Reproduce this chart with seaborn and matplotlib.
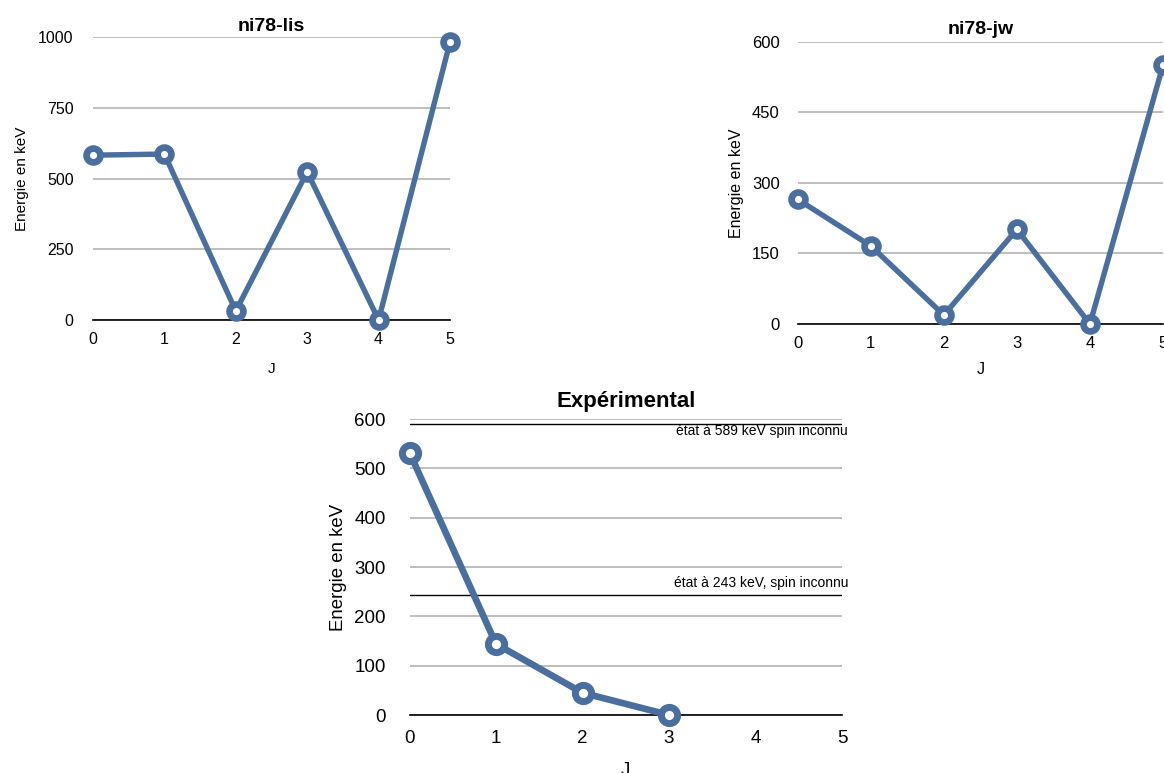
import matplotlib
matplotlib.use("Agg")
import matplotlib.pyplot as plt
import seaborn as sns
import pandas as pd

# === Données ===
j_lis = [0, 1, 2, 3, 4, 5]
e_lis = [583, 587, 32, 524, 0, 983]

j_jw = [0, 1, 2, 3, 4, 5]
e_jw = [265, 166, 19, 201, 0, 550]

j_exp = [0, 1, 2, 3]
e_exp = [532, 144, 45, 0]

# états de spin inconnu (expérimental)
etats_inconnus = [589, 243]
etats_labels = ["état à 589 keV spin inconnu", "état à 243 keV, spin inconnu"]

yticks_lis = [0, 250, 500, 750, 1000]
yticks_jw = [0, 150, 300, 450, 600]
yticks_exp = [0, 100, 200, 300, 400, 500, 600]
xticks = [0, 1, 2, 3, 4, 5]

BLEU = "#4a6f9e"
GRIS = "#b3b3b3"

sns.set_style("white")
plt.rcParams["font.family"] = ["Liberation Sans", "DejaVu Sans"]
plt.rcParams["text.color"] = "black"
plt.rcParams["axes.labelcolor"] = "black"
plt.rcParams["xtick.color"] = "black"
plt.rcParams["ytick.color"] = "black"

fig = plt.figure(figsize=(11.64, 7.73), dpi=100)


def panneau(rect, j, e, yticks, titre, fs_tick, fs_lab, fs_titre, ms, mew, lw,
            title_y, ylab_x, xlab_y, ypad, xpad):
    ax = fig.add_axes(rect)
    df = pd.DataFrame({"J": j, "E": e})
    sns.lineplot(data=df, x="J", y="E", ax=ax, color=BLEU, lw=lw, marker="o",
                 ms=ms, mfc="white", mec=BLEU, mew=mew, clip_on=False, zorder=5)
    ax.set_xlim(0, 5)
    ax.set_ylim(yticks[0], yticks[-1])
    ax.set_xticks(xticks)
    ax.set_yticks(yticks)
    ax.yaxis.grid(True, color=GRIS, lw=1.2)
    ax.xaxis.grid(False)
    ax.set_axisbelow(True)
    for s in ["top", "right", "left"]:
        ax.spines[s].set_visible(False)
    ax.spines["bottom"].set_color("black")
    ax.spines["bottom"].set_linewidth(1.2)
    ax.tick_params(axis="both", length=0, labelsize=fs_tick)
    ax.tick_params(axis="y", pad=ypad)
    ax.tick_params(axis="x", pad=xpad)
    ax.set_xlabel("J", fontsize=fs_lab)
    ax.set_ylabel("Energie en keV", fontsize=fs_lab)
    ax.yaxis.set_label_coords(ylab_x, 0.5)
    ax.xaxis.set_label_coords(0.5, xlab_y)
    ax.set_title(titre, fontsize=fs_titre, fontweight="bold", y=title_y,
                 va="center", pad=0)
    return ax


W, H = 1164, 773

# ni78-lis
panneau([93 / W, (H - 320) / H, 357 / W, 282.7 / H], j_lis, e_lis, yticks_lis,
        "ni78-lis", 11.5, 11, 14, 10, 4.8, 3.9,
        1 + 11 / 282.7, -0.18, -0.148, 14, 8.6)

# ni78-jw (coupé à droite)
panneau([797.7 / W, (H - 324) / H, 365.3 / W, 282.3 / H], j_jw, e_jw, yticks_jw,
        "ni78-jw", 12, 11.5, 14, 10, 4.8, 3.9,
        1 + 12.4 / 282.3, -0.147, -0.136, 13, 8.6)

# Expérimental
ax3 = panneau([409.5 / W, (H - 715) / H, 432.5 / W, 296 / H], j_exp, e_exp,
              yticks_exp, "Expérimental", 13.5, 13.4, 16, 11.7, 5.0, 4.8,
              1 + 18 / 296, -0.145, -0.16, 17, 10.5)

for val, txt, ytxt in zip(etats_inconnus, etats_labels, [576, 268]):
    ax3.axhline(val, color="black", lw=1.0, zorder=2)
    ax3.text(5.07, ytxt, txt, fontsize=10, ha="right", va="center")

fig.savefig("out.png", dpi=100)
